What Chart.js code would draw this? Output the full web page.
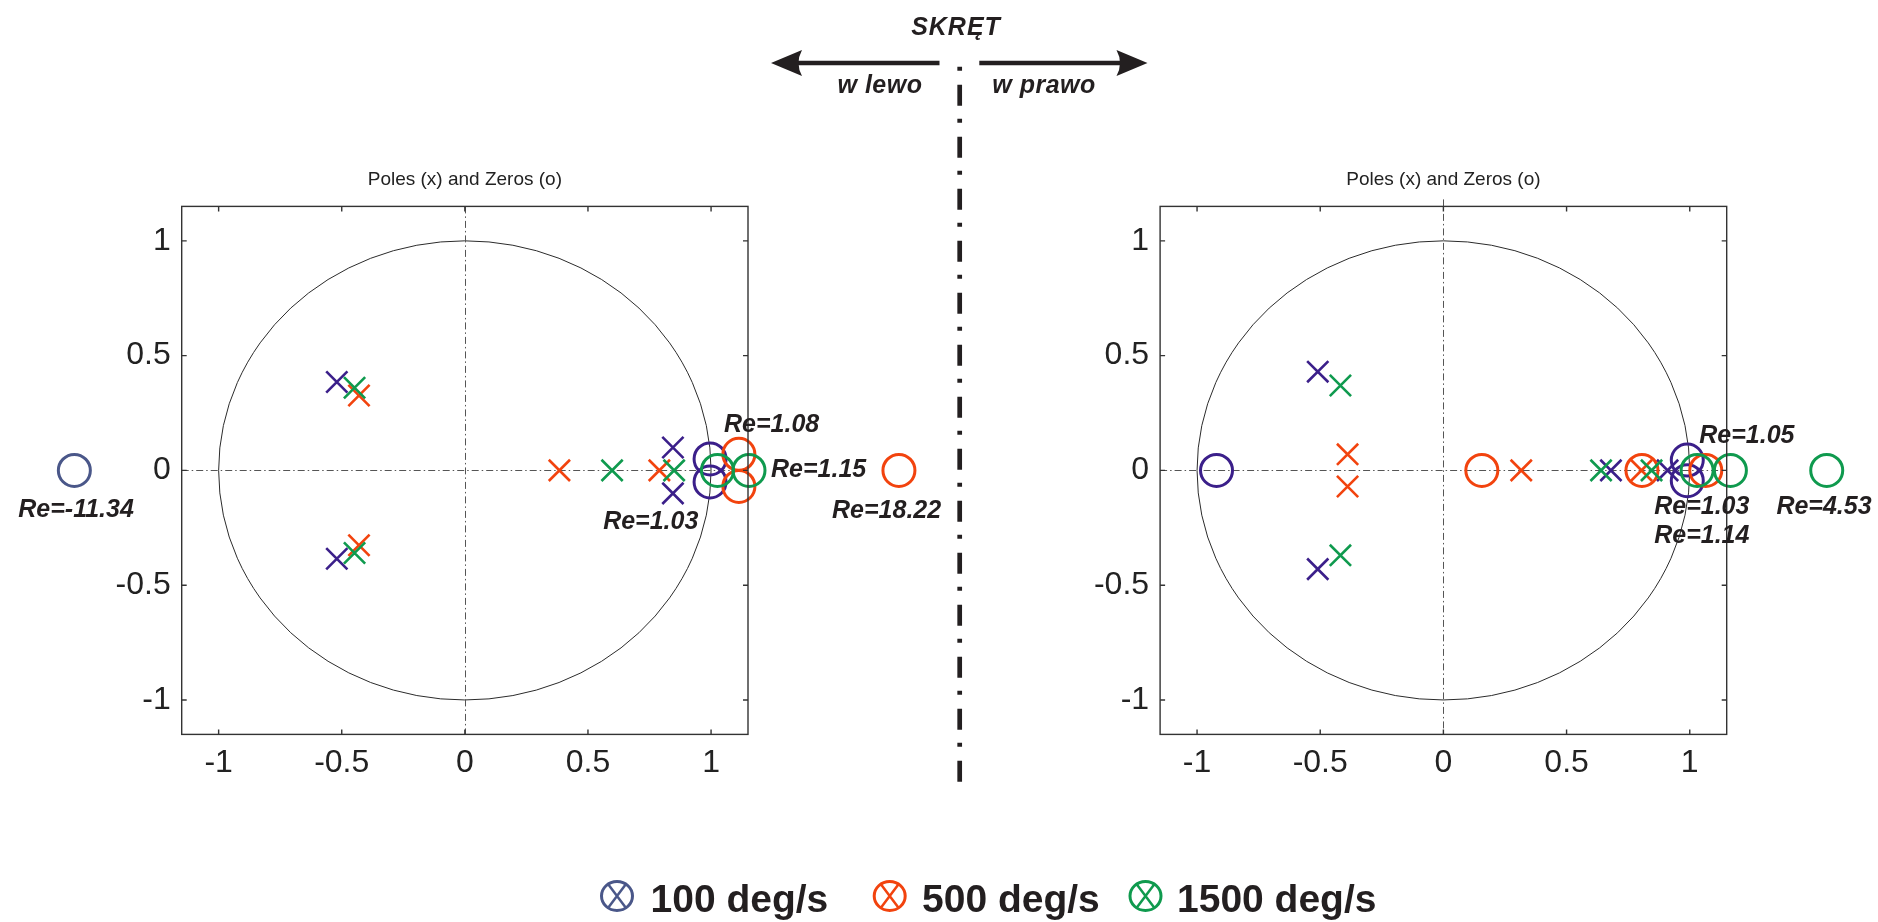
<!DOCTYPE html>
<html><head><meta charset="utf-8">
<script src="https://cdn.jsdelivr.net/npm/chart.js@4.4.1/dist/chart.umd.min.js"></script>
<style>
html,body{margin:0;padding:0;background:#fff;}
body{width:1878px;height:922px;position:relative;overflow:hidden;font-family:"Liberation Sans",Arial,sans-serif;}
#cl{position:absolute;left:0;top:0;}
#cr{position:absolute;left:965px;top:0;}
#ov{position:absolute;left:0;top:0;pointer-events:none;}
</style></head><body>
<canvas id="cl" width="955" height="800"></canvas>
<canvas id="cr" width="913" height="800"></canvas>
<svg id="ov" width="1878" height="922" font-family="Liberation Sans, Arial, sans-serif"></svg>
<script>
// ---------- data ----------
const plotTitle = 'Poles (x) and Zeros (o)';
const seriesNames = ['100 deg/s', '500 deg/s', '1500 deg/s'];
const tickValues = [-1, -0.5, 0, 0.5, 1];
const tickLabels = ['-1', '-0.5', '0', '0.5', '1'];
const headerText = 'SKRĘT';
const leftDirText = 'w lewo';
const rightDirText = 'w prawo';

// left panel (w lewo): [re, im]
const leftPoles100  = [[-0.52, 0.385], [-0.52, -0.385], [0.845, 0.10], [0.845, -0.10]];
const leftPoles500  = [[-0.43, 0.326], [-0.43, -0.326], [0.384, 0], [0.79, 0]];
const leftPoles1500 = [[-0.448, 0.36], [-0.448, -0.36], [0.598, 0], [0.85, 0]];
const leftZeros100  = [[0.996, 0.05], [0.996, -0.05]];
const leftZeros500  = [[1.113, 0.07], [1.113, -0.07]];
const leftZeros1500 = [[1.026, 0], [1.154, 0]];
const leftOffZeros100 = [[-1.586, 0]];   // Re=-11.34 (shown outside axes)
const leftOffZeros500 = [[1.763, 0]];    // Re=18.22 (shown outside axes)
const leftNotes = ['Re=-11.34', 'Re=1.03', 'Re=1.08', 'Re=1.15', 'Re=18.22'];

// right panel (w prawo)
const rightPoles100  = [[-0.51, 0.43], [-0.51, -0.43], [0.68, 0], [0.91, 0]];
const rightPoles500  = [[-0.389, 0.07], [-0.389, -0.07], [0.316, 0], [0.804, 0]];
const rightPoles1500 = [[-0.418, 0.37], [-0.418, -0.37], [0.64, 0], [0.845, 0]];
const rightZeros100  = [[-0.921, 0], [0.99, 0.045], [0.99, -0.045]];
const rightZeros500  = [[0.156, 0], [0.806, 0], [1.065, 0]];
const rightZeros1500 = [[1.03, 0], [1.165, 0]];
const rightOffZeros1500 = [[1.556, 0]];  // Re=4.53 (shown outside axes)
const rightNotes = ['Re=1.05', 'Re=1.03', 'Re=1.14', 'Re=4.53'];

// ---------- styles ----------
const C100 = '#3b1f8a', C500 = '#f2430e', C1500 = '#0f9a4e', CSLATE = '#4a5789';
const INK = '#231f20';
const FONT = '"Liberation Sans", Arial, sans-serif';
const ZERO_R = 16, ZERO_W = 3;

const pts = a => a.map(([x, y]) => ({x, y}));
function poles(d, col, order) {
  return {data: pts(d), pointStyle: 'crossRot', pointRadius: 15, pointBorderWidth: 2.6,
    borderColor: col, backgroundColor: 'rgba(0,0,0,0)', clip: false, order};
}
function zeros(d, col, order) {
  return {data: pts(d), pointStyle: 'circle', pointRadius: ZERO_R, pointBorderWidth: ZERO_W,
    borderColor: col, backgroundColor: 'rgba(0,0,0,0)', clip: false, order};
}

const zplanePlugin = {
  id: 'zplane',
  beforeDatasetsDraw(chart, args, opts) {
    const {ctx, chartArea: a, scales: {x, y}} = chart;
    const cx = x.getPixelForValue(0), cy = y.getPixelForValue(0);
    const rx = x.getPixelForValue(1) - cx, ry = cy - y.getPixelForValue(1);
    ctx.save();
    ctx.strokeStyle = '#2b2b2b'; ctx.lineWidth = 1;
    ctx.beginPath(); ctx.ellipse(cx, cy, rx, ry, 0, 0, Math.PI * 2); ctx.stroke();
    ctx.strokeStyle = '#555'; ctx.setLineDash([7, 3, 1.5, 3]);
    ctx.beginPath();
    ctx.moveTo(a.left, Math.round(cy) + 0.5); ctx.lineTo(a.right, Math.round(cy) + 0.5);
    ctx.moveTo(Math.round(cx) + 0.5, a.top - (opts.vExtend || 0)); ctx.lineTo(Math.round(cx) + 0.5, a.bottom);
    ctx.stroke();
    ctx.restore();
  },
  afterDatasetsDraw(chart, args, opts) {
    const {ctx, chartArea: a, scales: {x, y}} = chart;
    ctx.save();
    // zeros lying beyond the axis limits (Chart.js skips points outside the area)
    (opts.offZeros || []).forEach(g => {
      ctx.strokeStyle = g.color; ctx.lineWidth = ZERO_W;
      g.data.forEach(([re, im]) => {
        ctx.beginPath();
        ctx.arc(x.getPixelForValue(re), y.getPixelForValue(im), ZERO_R, 0, Math.PI * 2);
        ctx.stroke();
      });
    });
    ctx.strokeStyle = '#333'; ctx.lineWidth = 1.4;
    ctx.strokeRect(a.left, a.top, a.right - a.left, a.bottom - a.top);
    ctx.beginPath();
    tickValues.forEach(v => {
      const px = x.getPixelForValue(v), py = y.getPixelForValue(v);
      ctx.moveTo(px, a.bottom); ctx.lineTo(px, a.bottom - 5);
      ctx.moveTo(px, a.top); ctx.lineTo(px, a.top + 5);
      ctx.moveTo(a.left, py); ctx.lineTo(a.left + 5, py);
      ctx.moveTo(a.right, py); ctx.lineTo(a.right - 5, py);
    });
    ctx.stroke();
    ctx.font = 'italic bold 25px ' + FONT;
    ctx.fillStyle = INK; ctx.textAlign = 'center'; ctx.textBaseline = 'middle';
    (opts.notes || []).forEach(n => {
      ctx.fillText(n.text, x.getPixelForValue(n.x), y.getPixelForValue(n.y));
    });
    ctx.restore();
  }
};

function makeChart(id, datasets, offZeros, notes, pad, vExtend) {
  const tickFont = {family: FONT, size: 32, weight: 'normal'};
  return new Chart(document.getElementById(id), {
    type: 'scatter',
    data: {datasets},
    options: {
      responsive: false, animation: false, events: [],
      layout: {padding: pad},
      plugins: {
        legend: {display: false}, tooltip: {enabled: false},
        title: {display: true, text: plotTitle, fullSize: false, color: '#222',
          font: {family: FONT, size: 19, weight: 'normal'}, padding: {top: 0, bottom: 15}},
        zplane: {notes, vExtend, offZeros}
      },
      scales: {
        x: {type: 'linear', min: -1.15, max: 1.15, grid: {display: false}, border: {display: false},
          afterBuildTicks: s => { s.ticks = tickValues.map(v => ({value: v})); },
          afterFit: s => { s.height = 50; },
          ticks: {font: tickFont, color: '#222', padding: 2, maxRotation: 0, autoSkip: false,
            callback: v => tickLabels[tickValues.indexOf(v)]}},
        y: {type: 'linear', min: -1.15, max: 1.15, grid: {display: false}, border: {display: false},
          afterBuildTicks: s => { s.ticks = tickValues.map(v => ({value: v})); },
          afterFit: s => { s.width = 80; },
          ticks: {font: tickFont, color: '#222', padding: 3, autoSkip: false,
            callback: v => tickLabels[tickValues.indexOf(v)]}}
      }
    },
    plugins: [zplanePlugin]
  });
}

makeChart('cl', [
  zeros(leftZeros1500, C1500, 1), poles(leftPoles1500, C1500, 2),
  zeros(leftZeros500, C500, 3), poles(leftPoles500, C500, 4),
  zeros(leftZeros100, C100, 5), poles(leftPoles100, C100, 6)
], [
  {data: leftOffZeros100, color: CSLATE},
  {data: leftOffZeros500, color: C500}
], [
  {text: leftNotes[0], x: -1.579, y: -0.175},
  {text: leftNotes[1], x: 0.755, y: -0.227},
  {text: leftNotes[2], x: 1.246, y: 0.198},
  {text: leftNotes[3], x: 1.437, y: 0.003},
  {text: leftNotes[4], x: 1.713, y: -0.179}
], {left: 101.7, right: 207, top: 168.6, bottom: 15.6}, 0);

makeChart('cr', [
  zeros(rightZeros1500, C1500, 1), poles(rightPoles1500, C1500, 2),
  zeros(rightZeros500, C500, 3), poles(rightPoles500, C500, 4),
  zeros(rightZeros100, C100, 5), poles(rightPoles100, C100, 6)
], [
  {data: rightOffZeros1500, color: C1500}
], [
  {text: rightNotes[0], x: 1.232, y: 0.151},
  {text: rightNotes[1], x: 1.049, y: -0.162},
  {text: rightNotes[2], x: 1.049, y: -0.288},
  {text: rightNotes[3], x: 1.545, y: -0.162}
], {left: 115.1, right: 151.3, top: 168.6, bottom: 15.6}, 7);

// ---------- header, divider, legend ----------
const NS = 'http://www.w3.org/2000/svg';
const ov = document.getElementById('ov');
function el(tag, attrs, text) {
  const e = document.createElementNS(NS, tag);
  for (const k in attrs) e.setAttribute(k, attrs[k]);
  if (text !== undefined) e.textContent = text;
  ov.appendChild(e); return e;
}
const bi = {'font-size': 25, 'font-weight': 'bold', 'font-style': 'italic', fill: INK, 'text-anchor': 'middle'};
el('text', Object.assign({x: 956, y: 35, 'letter-spacing': 1}, bi), headerText);
el('text', Object.assign({x: 880, y: 93, 'letter-spacing': 0.5}, bi), leftDirText);
el('text', Object.assign({x: 1044, y: 93, 'letter-spacing': 0.5}, bi), rightDirText);
el('line', {x1: 797, y1: 63, x2: 939.5, y2: 63, stroke: INK, 'stroke-width': 4.5});
el('path', {d: 'M771,63 L802,50 Q795,63 802,76 Z', fill: INK});
el('line', {x1: 979.3, y1: 63, x2: 1122, y2: 63, stroke: INK, 'stroke-width': 4.5});
el('path', {d: 'M1147.5,63 L1116.5,50 Q1123.5,63 1116.5,76 Z', fill: INK});
el('line', {x1: 959.7, y1: 66.7, x2: 959.7, y2: 784, stroke: INK, 'stroke-width': 4.7, 'stroke-dasharray': '4 14 21 13'});

const legendCols = [CSLATE, C500, C1500];
const legendIconX = [617, 889.7, 1145.5];
const legendTextX = [650.5, 922, 1177];
seriesNames.forEach((name, i) => {
  const cx = legendIconX[i], cy = 896, col = legendCols[i];
  el('ellipse', {cx, cy, rx: 15.5, ry: 14.5, fill: 'none', stroke: col, 'stroke-width': 3});
  el('path', {d: `M${cx - 9},${cy - 12} L${cx + 9},${cy + 12} M${cx + 9},${cy - 12} L${cx - 9},${cy + 12}`,
    stroke: col, 'stroke-width': 2.5, fill: 'none'});
  el('text', {x: legendTextX[i], y: 911.7, 'font-size': 39, 'font-weight': 'bold', fill: INK}, name);
});
</script>
</body></html>
